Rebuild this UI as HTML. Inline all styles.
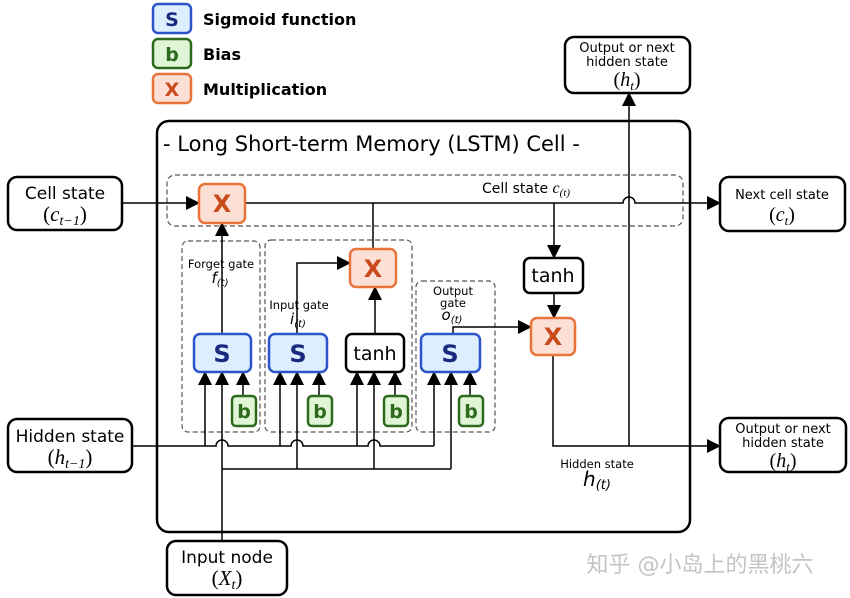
<!DOCTYPE html>
<html><head><meta charset="utf-8"><style>
html,body{margin:0;padding:0;background:#fff;}
svg{display:block;}
text{font-family:"DejaVu Sans","Liberation Sans",sans-serif;}
.m{font-family:"Liberation Serif",serif;}
.i{font-style:italic;}
</style></head><body>
<svg width="850" height="598" viewBox="0 0 850 598" xmlns="http://www.w3.org/2000/svg">
<defs>
<marker id="b" markerWidth="14" markerHeight="14" refX="13" refY="7" orient="auto" markerUnits="userSpaceOnUse"><path d="M0,0 L14,7 L0,14 z" fill="#000"/></marker>
</defs>
<rect x="153" y="4" width="38" height="29" rx="5" fill="#ddeeff" stroke="#2b55c8" stroke-width="2.5"/>
<text x="172" y="26" font-size="19" font-weight="bold" fill="#1a2a80" text-anchor="middle">S</text>
<text x="203" y="25" font-size="16" font-weight="bold">Sigmoid function</text>
<rect x="153" y="39" width="38" height="29" rx="5" fill="#dff5d5" stroke="#2e6a1e" stroke-width="2.5"/>
<text x="172" y="61" font-size="19" font-weight="bold" fill="#2e6a1e" text-anchor="middle">b</text>
<text x="203" y="60" font-size="16" font-weight="bold">Bias</text>
<rect x="153" y="74" width="38" height="29" rx="5" fill="#fde0d5" stroke="#e8743b" stroke-width="2.5"/>
<text x="172" y="96" font-size="19" font-weight="bold" fill="#c94a1a" text-anchor="middle">X</text>
<text x="203" y="95" font-size="16" font-weight="bold">Multiplication</text>

<rect x="157" y="121" width="533" height="411" rx="12" fill="none" stroke="#000" stroke-width="2.5"/>
<text x="163" y="151" font-size="21">- Long Short-term Memory (LSTM) Cell -</text>

<g fill="none" stroke="#555" stroke-width="1.2" stroke-dasharray="5,3">
<rect x="167" y="175" width="516" height="51" rx="8"/>
<rect x="182" y="241" width="78" height="191" rx="6"/>
<rect x="265" y="240" width="147" height="192" rx="6"/>
<rect x="416" y="281" width="79" height="151" rx="6"/>
</g>

<g fill="#fff" stroke="#000" stroke-width="2.5">
<rect x="8" y="177" width="114" height="53" rx="9"/>
<rect x="8" y="419" width="124" height="53" rx="9"/>
<rect x="167" y="541" width="120" height="54" rx="9"/>
<rect x="565" y="37" width="125" height="56" rx="9"/>
<rect x="720" y="177" width="125" height="54" rx="9"/>
<rect x="720" y="418" width="126" height="54" rx="9"/>
</g>
<text x="65" y="199" font-size="17" text-anchor="middle">Cell state</text>
<text x="65" y="221" font-size="21" text-anchor="middle" class="m">(<tspan class="i">c</tspan><tspan font-size="14" dy="4" class="i">t−1</tspan><tspan dy="-4">)</tspan></text>
<text x="70" y="442" font-size="17" text-anchor="middle">Hidden state</text>
<text x="70" y="464" font-size="21" text-anchor="middle" class="m">(<tspan class="i">h</tspan><tspan font-size="14" dy="4" class="i">t−1</tspan><tspan dy="-4">)</tspan></text>
<text x="227" y="563" font-size="17" text-anchor="middle">Input node</text>
<text x="227" y="585" font-size="21" text-anchor="middle" class="m">(<tspan class="i">X</tspan><tspan font-size="14" dy="4" class="i">t</tspan><tspan dy="-4">)</tspan></text>
<text x="627" y="52" font-size="13" text-anchor="middle">Output or next</text>
<text x="627" y="66" font-size="13" text-anchor="middle">hidden state</text>
<text x="627" y="86" font-size="20" text-anchor="middle" class="m">(<tspan class="i">h</tspan><tspan font-size="13" dy="4" class="i">t</tspan><tspan dy="-4">)</tspan></text>
<text x="782" y="199" font-size="13" text-anchor="middle">Next cell state</text>
<text x="782" y="221" font-size="20" text-anchor="middle" class="m">(<tspan class="i">c</tspan><tspan font-size="13" dy="4" class="i">t</tspan><tspan dy="-4">)</tspan></text>
<text x="783" y="433" font-size="13" text-anchor="middle">Output or next</text>
<text x="783" y="447" font-size="13" text-anchor="middle">hidden state</text>
<text x="783" y="467" font-size="20" text-anchor="middle" class="m">(<tspan class="i">h</tspan><tspan font-size="13" dy="4" class="i">t</tspan><tspan dy="-4">)</tspan></text>

<g fill="none" stroke="#000" stroke-width="1.5">
<path d="M122,203 L199,203" marker-end="url(#b)"/>
<path d="M245,203 L623,203 A6,6 0 0 1 635,203 L720,203" marker-end="url(#b)"/>
<path d="M222,334 L222,223" marker-end="url(#b)"/>
<path d="M373,249 L373,203"/>
<path d="M297,334 L297,263 L350,263" marker-end="url(#b)"/>
<path d="M375,334 L375,287" marker-end="url(#b)"/>
<path d="M554,203 L554,258" marker-end="url(#b)"/>
<path d="M554,293 L554,318" marker-end="url(#b)"/>
<path d="M453,334 L453,327 L531,327" marker-end="url(#b)"/>
<path d="M553,355 L553,446 L720,446" marker-end="url(#b)"/>
<path d="M629,446 L629,93" marker-end="url(#b)"/>
<path d="M132,446 L216,446 A6,6 0 0 1 228,446 L291,446 A6,6 0 0 1 303,446 L368,446 A6,6 0 0 1 380,446 L434,446"/>
<path d="M205,446 L205,372" marker-end="url(#b)"/>
<path d="M280,446 L280,372" marker-end="url(#b)"/>
<path d="M357,446 L357,372" marker-end="url(#b)"/>
<path d="M434,446 L434,372" marker-end="url(#b)"/>
<path d="M222,541 L222,372" marker-end="url(#b)"/>
<path d="M222,469 L451,469"/>
<path d="M297,469 L297,372" marker-end="url(#b)"/>
<path d="M374,469 L374,372" marker-end="url(#b)"/>
<path d="M451,469 L451,372" marker-end="url(#b)"/>
<path d="M243,396 L243,372" marker-end="url(#b)"/>
<path d="M319,396 L319,372" marker-end="url(#b)"/>
<path d="M395,396 L395,372" marker-end="url(#b)"/>
<path d="M470,396 L470,372" marker-end="url(#b)"/>
</g>

<g fill="#fde0d5" stroke="#e8743b" stroke-width="2.5">
<rect x="199" y="184" width="46" height="39" rx="6"/>
<rect x="350" y="249" width="46" height="38" rx="6"/>
<rect x="531" y="318" width="44" height="37" rx="6"/>
</g>
<g font-size="24" font-weight="bold" fill="#c94a1a" text-anchor="middle">
<text x="222" y="212">X</text><text x="373" y="277">X</text><text x="553" y="345">X</text>
</g>
<g fill="#ddeeff" stroke="#2b55c8" stroke-width="2.5">
<rect x="194" y="334" width="57" height="38" rx="6"/>
<rect x="269" y="334" width="58" height="38" rx="6"/>
<rect x="421" y="334" width="59" height="38" rx="6"/>
</g>
<g font-size="24" font-weight="bold" fill="#1a2a80" text-anchor="middle">
<text x="222" y="362">S</text><text x="298" y="362">S</text><text x="450" y="362">S</text>
</g>
<rect x="346" y="334" width="58" height="38" rx="6" fill="#fff" stroke="#000" stroke-width="2.5"/>
<text x="375" y="360" font-size="19" text-anchor="middle">tanh</text>
<rect x="524" y="258" width="59" height="35" rx="6" fill="#fff" stroke="#000" stroke-width="2.5"/>
<text x="553" y="282" font-size="19" text-anchor="middle">tanh</text>
<g fill="#dff5d5" stroke="#2e6a1e" stroke-width="2.5">
<rect x="232" y="396" width="24" height="30" rx="4"/>
<rect x="308" y="396" width="24" height="30" rx="4"/>
<rect x="384" y="396" width="24" height="30" rx="4"/>
<rect x="459" y="396" width="24" height="30" rx="4"/>
</g>
<g font-size="19" font-weight="bold" fill="#2e6a1e" text-anchor="middle">
<text x="244" y="418">b</text><text x="320" y="418">b</text><text x="396" y="418">b</text><text x="471" y="418">b</text>
</g>

<g font-size="11.5" text-anchor="middle">
<text x="221" y="268">Forget gate</text>
<text x="299" y="309">Input gate</text>
<text x="453" y="295">Output</text>
<text x="453" y="307">gate</text>
<text x="597" y="468">Hidden state</text>
</g>
<g class="m i" text-anchor="middle">
<text x="220" y="283" font-size="15">f<tspan font-size="10" dy="3">(t)</tspan></text>
<text x="298" y="324" font-size="15">i<tspan font-size="10" dy="3">(t)</tspan></text>
<text x="452" y="320" font-size="15">o<tspan font-size="10" dy="3">(t)</tspan></text>
<text x="597" y="486" font-size="20">h<tspan font-size="13" dy="3">(t)</tspan></text>
</g>
<text x="526" y="193" font-size="14" text-anchor="middle">Cell state <tspan class="m i" font-size="16">c<tspan font-size="11" dy="3">(t)</tspan></tspan></text>

<text x="700" y="572" font-size="22" fill="#c4c4c4" text-anchor="middle" font-family="'Liberation Sans','Noto Sans CJK SC',sans-serif">知乎 @小岛上的黑桃六</text>
</svg>
</body></html>
